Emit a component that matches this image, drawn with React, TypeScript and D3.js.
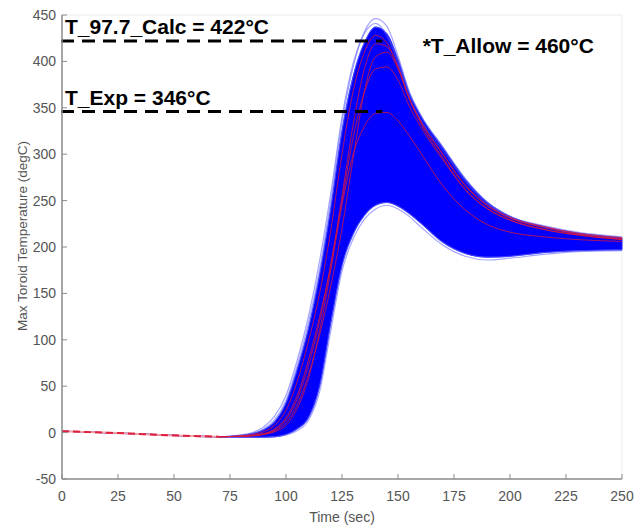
import React, { useEffect, useRef } from 'react';
import * as d3 from 'd3';

// Time grid shared by every run (sec)
const timeSec = [0, 25, 50, 70, 80, 85, 90, 95, 100, 105, 110, 115, 120, 125, 130, 135, 140, 145, 150, 155, 160, 170, 180, 190, 200, 215, 230, 250];

// Envelope of the blue Monte Carlo runs (degC)
const upperEnvelope = [1.5, -0.5, -3, -4.5, -3, -1, 3, 12, 32, 68, 112, 170, 242, 325, 384, 420, 437, 430, 402, 366, 342, 307, 273, 248, 233, 222, 215, 210];
const lowerEnvelope = [1.5, -0.5, -3, -4.5, -5, -5, -5, -4.5, -2, 4, 16, 50, 118, 180, 214, 234, 245, 248, 244, 236, 226, 205, 193, 189, 190, 194, 196, 197];

// Lighter blue runs at the edges of the band
const outlierHigh = [1.5, -0.5, -3, -4.5, -3, -1, 4, 14, 35, 72, 118, 176, 250, 334, 394, 432, 446, 438, 406, 368, 343, 308, 274, 248, 233, 223, 216, 211];
const outlierHigh2 = [1.5, -0.5, -3, -4.5, -2.5, 0, 6, 18, 40, 78, 125, 185, 258, 340, 398, 430, 441, 428, 398, 362, 338, 304, 271, 246, 232, 222, 215, 210];
const outlierLow = [1.5, -0.5, -3, -4.5, -5, -5, -5, -4.5, -2.5, 2, 13, 44, 110, 174, 209, 230, 241, 245, 241, 233, 222, 202, 190, 186, 188, 192, 195, 196];

// Red runs
const redRun1 = [1.5, -0.5, -3, -4.5, -3.5, -2, 1, 8, 24, 55, 98, 150, 218, 300, 368, 410, 428, 420, 394, 360, 336, 300, 266, 244, 231, 221, 214, 209];
const redRun2 = [1.5, -0.5, -3, -4.5, -4, -3, -1, 4, 16, 40, 78, 125, 180, 255, 332, 392, 419, 416, 394, 360, 336, 300, 267, 245, 232, 222, 215, 210];
const redRun3 = [1.5, -0.5, -3, -4.5, -4, -3.5, -2, 2, 11, 30, 62, 105, 158, 220, 296, 368, 405, 410, 392, 360, 334, 296, 262, 241, 229, 219, 213, 208];
const redRun4 = [1.5, -0.5, -3, -4.5, -4, -3.5, -2, 1, 8, 26, 58, 110, 175, 245, 300, 330, 344, 345, 336, 320, 302, 266, 240, 224, 216, 211, 208, 206];
const redRun5 = [1.5, -0.5, -3, -4.5, -4, -3, -1.5, 3, 14, 36, 72, 120, 182, 250, 318, 367, 392, 394, 380, 352, 330, 294, 262, 241, 229, 219, 213, 208];

const xTicks = [0, 25, 50, 75, 100, 125, 150, 175, 200, 225, 250];
const yTicks = [-50, 0, 50, 100, 150, 200, 250, 300, 350, 400, 450];

const limitLabels = ['T_97.7_Calc = 422°C', 'T_Exp = 346°C'];
const limitValues = [422, 346];
const allowLabel = '*T_Allow = 460°C';

const App = () => {
    const chartRef = useRef<SVGSVGElement>(null);

    useEffect(() => {
        const svg = d3.select(chartRef.current);
        svg.selectAll('*').remove();

        const width = 644;
        const height = 525;
        const margin = { top: 15, right: 22, bottom: 46, left: 62 };

        const x = d3.scaleLinear().domain([0, 250]).range([margin.left, width - margin.right]);
        const y = d3.scaleLinear().domain([-50, 450]).range([height - margin.bottom, margin.top]);

        const font = "'Liberation Sans', Arial, sans-serif";
        const tickColor = '#555';

        // Faint box
        svg.append('rect')
            .attr('x', x(0)).attr('y', y(450))
            .attr('width', x(250) - x(0)).attr('height', y(-50) - y(450))
            .attr('fill', 'none').attr('stroke', '#ececec').attr('stroke-width', 1);

        const band = d3.area<number>()
            .x((d, i) => x(timeSec[i]))
            .y0((d, i) => y(lowerEnvelope[i]))
            .y1(d => y(d))
            .curve(d3.curveMonotoneX);

        const line = d3.line<number>()
            .x((d, i) => x(timeSec[i]))
            .y(d => y(d))
            .curve(d3.curveMonotoneX);

        // Blue band
        svg.append('path')
            .datum(upperEnvelope)
            .attr('fill', '#0000fc')
            .attr('stroke', '#2020ff')
            .attr('stroke-width', 1)
            .attr('d', band);

        // Lighter edge runs
        [outlierHigh, outlierHigh2, outlierLow, upperEnvelope, lowerEnvelope].forEach(run => {
            svg.append('path')
                .datum(run)
                .attr('fill', 'none')
                .attr('stroke', '#5a5aff')
                .attr('stroke-opacity', 0.55)
                .attr('stroke-width', 1.2)
                .attr('d', line);
        });

        // Red runs (after the common start)
        const late = (run: number[]) => run.map((v, i) => (timeSec[i] >= 70 ? v : null));
        const lineDefined = d3.line<number | null>()
            .defined(d => d !== null)
            .x((d, i) => x(timeSec[i]))
            .y(d => y(d as number))
            .curve(d3.curveMonotoneX);

        [redRun1, redRun2, redRun3, redRun4, redRun5].forEach(run => {
            svg.append('path')
                .datum(late(run))
                .attr('fill', 'none')
                .attr('stroke', '#d8183c')
                .attr('stroke-opacity', 0.8)
                .attr('stroke-width', 1)
                .attr('d', lineDefined);
        });

        // Common start: all runs overlap, shown as a red dashed line
        const early = redRun1.map((v, i) => (timeSec[i] <= 75 ? v : null));
        svg.append('path')
            .datum(early)
            .attr('fill', 'none')
            .attr('stroke', '#f2a0a8')
            .attr('stroke-width', 2)
            .attr('d', lineDefined);
        svg.append('path')
            .datum(early)
            .attr('fill', 'none')
            .attr('stroke', '#e0203e')
            .attr('stroke-width', 2)
            .attr('stroke-dasharray', '7,4')
            .attr('d', lineDefined);

        // Limit lines
        const limitEnd = 143;
        limitValues.forEach((v, i) => {
            svg.append('line')
                .attr('x1', x(0) - 1).attr('x2', x(limitEnd))
                .attr('y1', y(v)).attr('y2', y(v))
                .attr('stroke', '#000')
                .attr('stroke-width', 3)
                .attr('stroke-dasharray', '13,8');
            svg.append('text')
                .attr('x', x(0) + 3)
                .attr('y', y(v) - 7)
                .attr('font-family', font)
                .attr('font-weight', 'bold')
                .attr('font-size', 21)
                .attr('fill', '#000')
                .text(limitLabels[i]);
        });

        svg.append('text')
            .attr('x', x(161))
            .attr('y', y(422) + 12)
            .attr('font-family', font)
            .attr('font-weight', 'bold')
            .attr('font-size', 21)
            .attr('fill', '#000')
            .text(allowLabel);

        // Axes
        const axisColor = '#8c8c8c';
        svg.append('line')
            .attr('x1', x(0)).attr('x2', x(0))
            .attr('y1', y(450)).attr('y2', y(-50))
            .attr('stroke', axisColor).attr('stroke-width', 1.5);
        svg.append('line')
            .attr('x1', x(0)).attr('x2', x(250))
            .attr('y1', y(-50)).attr('y2', y(-50))
            .attr('stroke', axisColor).attr('stroke-width', 1.5);

        yTicks.forEach(t => {
            svg.append('line')
                .attr('x1', x(0)).attr('x2', x(0) + 5)
                .attr('y1', y(t)).attr('y2', y(t))
                .attr('stroke', axisColor);
            svg.append('text')
                .attr('x', x(0) - 6)
                .attr('y', y(t))
                .attr('dy', '0.35em')
                .attr('text-anchor', 'end')
                .attr('font-family', font)
                .attr('font-size', 14)
                .attr('fill', tickColor)
                .text(t);
        });

        xTicks.forEach(t => {
            svg.append('line')
                .attr('x1', x(t)).attr('x2', x(t))
                .attr('y1', y(-50)).attr('y2', y(-50) - 5)
                .attr('stroke', axisColor);
            svg.append('text')
                .attr('x', x(t))
                .attr('y', y(-50) + 17)
                .attr('dy', '0.35em')
                .attr('text-anchor', 'middle')
                .attr('font-family', font)
                .attr('font-size', 14)
                .attr('fill', tickColor)
                .text(t);
        });

        svg.append('text')
            .attr('x', (x(0) + x(250)) / 2)
            .attr('y', y(-50) + 38)
            .attr('dy', '0.35em')
            .attr('text-anchor', 'middle')
            .attr('font-family', font)
            .attr('font-size', 14)
            .attr('fill', tickColor)
            .text('Time (sec)');

        svg.append('text')
            .attr('transform', 'translate(22,236) rotate(-90)')
            .attr('dy', '0.35em')
            .attr('text-anchor', 'middle')
            .attr('font-family', font)
            .attr('font-size', 13.5)
            .attr('fill', tickColor)
            .text('Max Toroid Temperature (degC)');
    }, []);

    return (
        <svg
            ref={chartRef}
            width={644}
            height={525}
            style={{ position: 'absolute', left: 0, top: 0, background: '#fff' }}
        />
    );
};

export default App;
